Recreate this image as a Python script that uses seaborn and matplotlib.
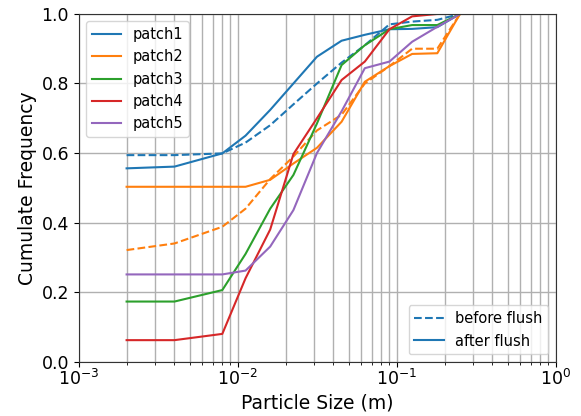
import numpy as np
import pandas as pd
import matplotlib
matplotlib.use("Agg")
import matplotlib.pyplot as plt
import seaborn as sns
from matplotlib.lines import Line2D

sizes = [0.002, 0.004, 0.008, 0.0112, 0.016, 0.0224, 0.0315, 0.045, 0.063, 0.09, 0.125, 0.18, 0.25]

patch1_after = [0.556, 0.561, 0.599, 0.65, 0.724, 0.80, 0.877, 0.923, 0.94, 0.956, 0.957, 0.962, 1.0]
patch1_before = [0.594, 0.594, 0.599, 0.63, 0.68, 0.74, 0.80, 0.86, 0.91, 0.97, 0.978, 0.983, 1.0]
patch2_after = [0.503, 0.503, 0.503, 0.503, 0.523, 0.57, 0.615, 0.69, 0.805, 0.85, 0.885, 0.887, 1.0]
patch2_before = [0.321, 0.34, 0.388, 0.44, 0.525, 0.59, 0.665, 0.71, 0.80, 0.85, 0.90, 0.90, 1.0]
patch3_after = [0.173, 0.173, 0.206, 0.31, 0.44, 0.537, 0.685, 0.853, 0.91, 0.956, 0.968, 0.968, 1.0]
patch4_after = [0.062, 0.062, 0.080, 0.24, 0.38, 0.597, 0.70, 0.81, 0.863, 0.956, 0.993, 1.0, 1.0]
patch5_after = [0.251, 0.251, 0.251, 0.262, 0.331, 0.436, 0.60, 0.72, 0.844, 0.863, 0.92, 0.963, 1.0]

patches = ["patch1", "patch2", "patch3", "patch4", "patch5"]
colors = ["#1f77b4", "#ff7f0e", "#2ca02c", "#d62728", "#9467bd"]

series = [
    ("patch1", "after flush", patch1_after),
    ("patch1", "before flush", patch1_before),
    ("patch2", "after flush", patch2_after),
    ("patch2", "before flush", patch2_before),
    ("patch3", "after flush", patch3_after),
    ("patch4", "after flush", patch4_after),
    ("patch5", "after flush", patch5_after),
]
rows = []
for p, cond, vals in series:
    for s, v in zip(sizes, vals):
        rows.append({"size": s, "freq": v, "patch": p, "condition": cond})
df = pd.DataFrame(rows)

fig = plt.figure(figsize=(5.81, 4.16), dpi=100)
ax = fig.add_axes([0.1355, 0.1305, 0.821, 0.836])

sns.lineplot(data=df, x="size", y="freq", hue="patch", style="condition",
             hue_order=patches, palette=colors,
             style_order=["before flush", "after flush"],
             dashes={"before flush": (3.7, 1.6), "after flush": ""},
             estimator=None, sort=True, linewidth=1.5, legend=False, ax=ax)

ax.set_xscale("log")
ax.set_xlim(1e-3, 1)
ax.set_ylim(0, 1)
ax.set_yticks([0, 0.2, 0.4, 0.6, 0.8, 1.0])
ax.set_yticklabels(["0.0", "0.2", "0.4", "0.6", "0.8", "1.0"])
ax.grid(True, which="major", axis="both", color="#b0b0b0", linewidth=1.0)
ax.grid(True, which="minor", axis="x", color="#b0b0b0", linewidth=1.0)
ax.set_axisbelow(True)
ax.set_xlabel("Particle Size (m)", fontsize=13.5, labelpad=3)
ax.set_ylabel("Cumulate Frequency", fontsize=13.5, labelpad=3)
ax.tick_params(axis="y", labelsize=12.5)
ax.tick_params(axis="x", labelsize=12.5, pad=2)
for s in ax.spines.values():
    s.set_color("#333333")

h1 = [Line2D([0], [0], color=c, lw=1.5) for c in colors]
leg1 = ax.legend(h1, patches, loc="upper left", fontsize=10.5)
ax.add_artist(leg1)
h2 = [Line2D([0], [0], color="#1f77b4", lw=1.5, ls=(0, (3.7, 1.6))),
      Line2D([0], [0], color="#1f77b4", lw=1.5)]
ax.legend(h2, ["before flush", "after flush"], loc="lower right", fontsize=10.5)

fig.savefig("out.png", dpi=100)
